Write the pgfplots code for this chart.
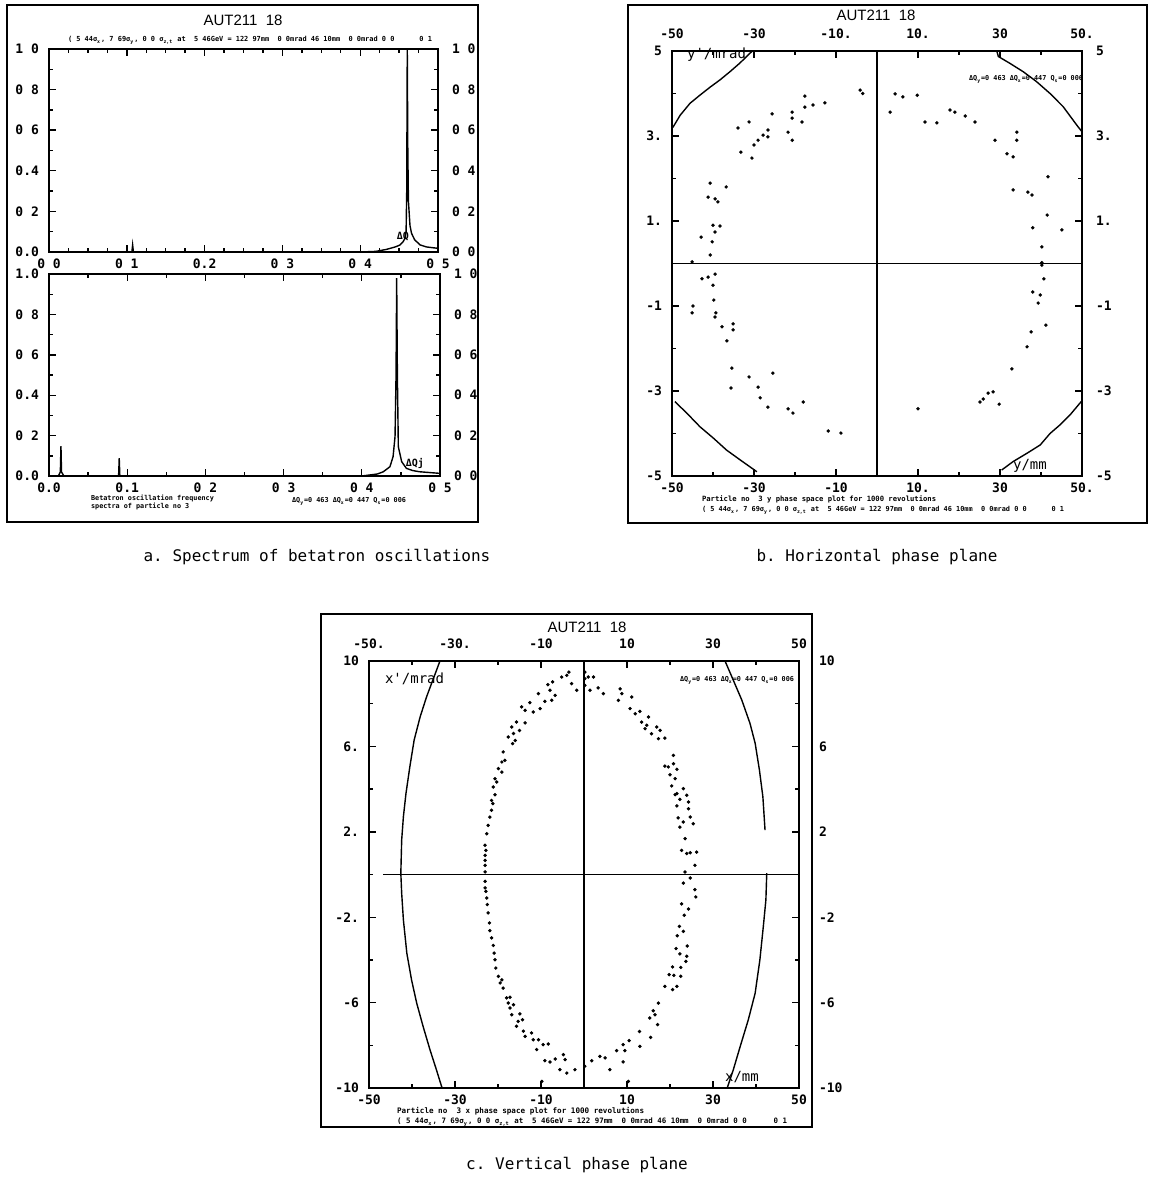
\documentclass[border=0pt]{standalone}
\usepackage{fontspec}
\setmainfont{DejaVu Sans Mono}
\setmonofont{DejaVu Sans Mono}
\setsansfont{Liberation Sans}
\usepackage{graphicx}
\usepackage{pgfplots}
\pgfplotsset{compat=1.18}

\newcommand{\tinyfont}{\fontsize{3.4}{4}\selectfont\ttfamily\bfseries}
\newcommand{\header}{( 5 44σ\textsubscript{x}, 7 69σ\textsubscript{y}, 0 0 σ\textsubscript{z,t} at \ 5 46GeV = 122 97mm \ 0 0mrad 46 10mm \ 0 0mrad 0 0 \ \ \ \ \ 0 1}
\newcommand{\dq}{ΔQ\textsubscript{y}=0 463 ΔQ\textsubscript{x}=0 447 Q\textsubscript{s}=0 006}
\newcommand{\tickfont}{\fontsize{6.5}{7}\selectfont\ttfamily\bfseries}

\pgfplotsset{
  panel/.style={scale only axis, anchor=north west,
    axis line style={line width=0.9pt},
    tick style={line width=0.7pt, black},
    major tick length=3.5pt, minor tick length=1.8pt,
    ticklabel style={font=\tickfont}, clip=true,
    yticklabel style={xshift=-1.5pt}},
  over/.style={panel, axis line style={draw=none},
    major tick length=0pt, minor tick length=0pt,
    xticklabel pos=right, yticklabel pos=right,
    yticklabel style={xshift=5pt}, xticklabel style={yshift=2.5pt}},
  dots/.style={only marks, mark=*, mark size=0.65pt, black},
  curve/.style={black, line width=0.7pt, no marks},
}

\begin{document}
\begin{tikzpicture}
\path[use as bounding box] (0,0) rectangle (575.5pt,-591pt);

% ---------- frames ----------
\draw[line width=0.9pt] (3.5pt,-2.5pt) rectangle (239pt,-261pt);
\draw[line width=0.9pt] (314pt,-2.5pt) rectangle (573.5pt,-261.5pt);
\draw[line width=0.9pt] (160.5pt,-307pt) rectangle (406pt,-563.5pt);

% ---------- panel a, top ----------
\begin{axis}[panel, at={(24.5pt,-24.5pt)}, width=194.5pt, height=101.5pt,
  xmin=0, xmax=0.5, ymin=0, ymax=1,
  xtick={0,0.1,0.2,0.3,0.4,0.5}, xticklabels={0 0,0 1,0.2,0 3,0 4,0 5},
  minor xtick={0.025,0.05,0.075,0.125,0.15,0.175,0.225,0.25,0.275,0.325,0.35,0.375,0.425,0.45,0.475},
  ytick={0,0.2,0.4,0.6,0.8,1}, yticklabels={0.0,0 2,0.4,0 6,0 8,1 0},
  minor ytick={0.1,0.3,0.5,0.7,0.9}]
\addplot[curve] coordinates {(0,0)(0.1065,0)(0.1075,0.035)(0.1085,0)(0.40,0)(0.42,0.003)(0.434,0.013)(0.445,0.025)(0.451,0.034)(0.455,0.05)(0.4576,0.067)(0.459,0.1)(0.4598,0.3)(0.4605,1.0)(0.4612,0.5)(0.462,0.25)(0.464,0.13)(0.466,0.092)(0.47,0.06)(0.477,0.035)(0.485,0.025)(0.5,0.018)};
\node[font=\fontsize{5}{5}\selectfont\ttfamily\bfseries] at (axis cs:0.455,0.075) {ΔQ};
\end{axis}
\begin{axis}[over, at={(24.5pt,-24.5pt)}, width=194.5pt, height=101.5pt,
  xmin=0, xmax=0.5, ymin=0, ymax=1, xtick=\empty,
  ytick={0,0.2,0.4,0.6,0.8,1}, yticklabels={0 0,0 2,0 4,0 6,0 8,1 0}]
\end{axis}

% ---------- panel a, bottom ----------
\begin{axis}[panel, at={(24.5pt,-137pt)}, width=195.5pt, height=101pt,
  xmin=0, xmax=0.5, ymin=0, ymax=1,
  xtick={0,0.1,0.2,0.3,0.4,0.5}, xticklabels={0.0,0.1,0 2,0 3,0 4,0 5},
  minor xtick={0.05,0.15,0.25,0.35,0.45},
  ytick={0,0.2,0.4,0.6,0.8,1}, yticklabels={0.0,0 2,0.4,0 6,0 8,1.0},
  minor ytick={0.1,0.3,0.5,0.7,0.9}]
\addplot[curve] coordinates {(0,0)(0.012,0)(0.0145,0.02)(0.0153,0.148)(0.016,0.02)(0.019,0)(0.089,0)(0.0898,0.088)(0.0906,0)(0.40,0)(0.42,0.01)(0.4275,0.021)(0.436,0.046)(0.440,0.096)(0.4425,0.195)(0.4438,0.5)(0.4446,0.98)(0.4455,0.5)(0.4467,0.145)(0.451,0.071)(0.457,0.038)(0.465,0.027)(0.474,0.021)(0.5,0.013)};
\node[font=\fontsize{5}{5}\selectfont\ttfamily\bfseries] at (axis cs:0.468,0.06) {ΔQj};
\end{axis}
\begin{axis}[over, at={(24.5pt,-137pt)}, width=195.5pt, height=101pt,
  xmin=0, xmax=0.5, ymin=0, ymax=1, xtick=\empty,
  ytick={0,0.2,0.4,0.6,0.8,1}, yticklabels={0 0,0 2,0 4,0 6,0 8,1 0}]
\end{axis}

\node[font=\sffamily\fontsize{7.5}{8}\selectfont] at (121.5pt,-10pt) {AUT211 \ 18};
\node[font=\tinyfont] at (125pt,-20pt) {\resizebox{182pt}{!}{\header}};
\node[font=\tinyfont, anchor=west, align=left] at (42pt,-251pt) {Betatron oscillation frequency\\spectra of particle no 3};
\node[font=\tinyfont, anchor=west] at (142.5pt,-250.5pt) {\dq};

% ---------- panel b ----------
\begin{axis}[panel, at={(336pt,-25.5pt)}, width=205pt, height=212.5pt,
  xmin=-50, xmax=50, ymin=-5, ymax=5,
  xtick={-50,-30,-10,10,30,50}, xticklabels={-50,-30,-10,10.,30,50.},
  minor xtick={-40,-20,0,20,40},
  ytick={-5,-3,-1,1,3,5}, yticklabels={-5,-3,-1,1.,3.,5},
  minor ytick={-4,-2,0,2,4}]
\addplot[curve] coordinates {(0,-5)(0,5)};
\addplot[curve] coordinates {(-50,0)(50,0)};
\addplot[curve] coordinates {(-49.8,3.2)(-48,3.49)(-45.6,3.77)(-43.2,3.96)(-40.7,4.15)(-38.3,4.32)(-35.9,4.51)(-33.4,4.72)(-31.4,4.91)(-30.4,5.0)};
\addplot[curve] coordinates {(29.2,5.0)(29.6,4.87)(32.4,4.71)(35.7,4.51)(38.9,4.28)(42.2,4.0)(45.4,3.69)(49,3.22)(50,3.1)};
\addplot[curve] coordinates {(-49.3,-3.25)(-46.4,-3.52)(-43.2,-3.84)(-39.9,-4.11)(-36.7,-4.39)(-33.4,-4.62)(-29.3,-4.9)};
\addplot[curve] coordinates {(49.8,-3.25)(47.1,-3.56)(44.6,-3.8)(42.2,-4.0)(39.8,-4.27)(36.5,-4.47)(33.2,-4.66)(30.4,-4.86)};
\addplot[dots] coordinates {
(-4.1,4.08)(-3.5,4.0)(-17.6,3.94)(-17.6,3.68)(-15.6,3.73)(-12.7,3.78)(-18.3,3.33)(-20.7,3.56)(-20.7,3.42)(-21.7,3.09)(-20.7,2.9)(-25.6,3.52)(-26.6,3.14)(-26.6,2.98)(-27.8,3.02)(-29,2.9)(-30,2.79)(-31.2,3.33)(-33.9,3.19)(-33.2,2.62)(-30.5,2.48)(-40.7,1.89)(-36.8,1.8)(-41.2,1.56)(-39.5,1.52)(-38.8,1.45)(-40,0.9)(-38.3,0.88)(-39.5,0.74)(-42.9,0.62)(-40.2,0.51)(-40.7,0.2)(-45.1,0.04)
(3.2,3.56)(4.4,3.99)(6.3,3.92)(9.8,3.96)(11.7,3.33)(14.6,3.31)(17.8,3.61)(19,3.56)(21.5,3.47)(23.9,3.33)(28.8,2.9)(34.1,3.09)(34.1,2.9)(31.7,2.58)(33.2,2.51)(41.7,2.04)(33.2,1.73)(36.8,1.68)(37.8,1.61)(41.5,1.14)(38,0.84)(45.1,0.79)(40.2,0.39)(40.2,0.02)
(-42.7,-0.36)(-41.2,-0.32)(-39.5,-0.25)(-40,-0.51)(-39.8,-0.86)(-44.9,-1.0)(-45.1,-1.16)(-39.3,-1.16)(-39.5,-1.26)(-37.8,-1.49)(-35.1,-1.42)(-35.1,-1.56)(-36.6,-1.82)(-35.4,-2.46)(-35.6,-2.93)(-31.2,-2.67)(-29,-2.91)(-28.5,-3.16)(-25.4,-2.58)(-26.6,-3.38)(-21.7,-3.42)(-20.5,-3.52)(-18,-3.26)(-11.9,-3.94)(-8.8,-3.99)
(10,-3.42)(25.1,-3.26)(25.9,-3.19)(27.1,-3.05)(28.3,-3.02)(29.8,-3.31)(32.9,-2.48)(36.6,-1.96)(37.6,-1.61)(41.2,-1.45)(38,-0.67)(39.8,-0.74)(39.3,-0.93)(40.7,-0.36)(40.2,-0.04)};
\end{axis}
\begin{axis}[over, at={(336pt,-25.5pt)}, width=205pt, height=212.5pt,
  xmin=-50, xmax=50, ymin=-5, ymax=5,
  xtick={-50,-30,-10,10,30,50}, xticklabels={-50,-30,-10.,10.,30,50.},
  ytick={-5,-3,-1,1,3,5}, yticklabels={-5,-3,-1,1.,3.,5}]
\end{axis}
\node[font=\sffamily\fontsize{7.5}{8}\selectfont] at (438pt,-7.5pt) {AUT211 \ 18};
\node[font=\fontsize{7}{7}\selectfont\ttfamily, anchor=west] at (340pt,-27.5pt) {y'/mrad};
\node[font=\tinyfont, anchor=west] at (481pt,-39.5pt) {\dq};
\node[font=\fontsize{7}{7}\selectfont\ttfamily, anchor=west] at (503pt,-233pt) {y/mm};
\node[font=\fontsize{3.6}{4}\selectfont\ttfamily\bfseries, anchor=west] at (347.5pt,-249.5pt) {Particle no \ 3 y phase space plot for 1000 revolutions};
\node[font=\tinyfont, anchor=west] at (347.5pt,-255pt) {\resizebox{181pt}{!}{\header}};

% ---------- panel c ----------
\begin{axis}[panel, at={(184.5pt,-330.5pt)}, width=215pt, height=213.5pt,
  xmin=-50, xmax=50, ymin=-10, ymax=10,
  xtick={-50,-30,-10,10,30,50}, xticklabels={-50,-30,-10,10,30,50},
  minor xtick={-40,-20,0,20,40},
  ytick={-10,-6,-2,2,6,10}, yticklabels={-10,-6,-2.,2.,6.,10},
  minor ytick={-8,-4,0,4,8}]
\addplot[curve] coordinates {(0,-10)(0,10)};
\addplot[curve] coordinates {(-46.7,0)(50,0)};
\addplot[curve] coordinates {(-33.5,10)(-35,9.19)(-36.6,8.33)(-38.1,7.39)(-39.5,6.3)(-40.5,5.05)(-41.4,3.8)(-42,2.71)(-42.4,1.62)(-42.6,0.06)(-42.4,-0.88)(-42,-2.13)(-41.2,-3.69)(-40.1,-4.94)(-38.9,-6.03)(-37.4,-7.13)(-35.8,-8.22)(-34.3,-9.16)(-33.1,-9.94)(-33,-10)};
\addplot[curve] coordinates {(32.8,10)(34.7,9.11)(36.7,8.17)(38.6,7.08)(39.8,6.15)(40.8,4.89)(41.6,3.64)(42.1,2.08)};
\addplot[curve] coordinates {(42.5,0.06)(42.3,-1.19)(41.7,-2.44)(40.9,-4.0)(39.8,-5.56)(38.2,-6.81)(36.3,-8.07)(34.7,-9.16)(33.3,-10)};
\addplot[dots] coordinates {
(-3.5,9.48)(-4.0,9.33)(-5.2,9.25)(-7.3,9.02)(-8.4,8.89)(-10.6,8.47)(-7.9,8.63)(-6.7,8.39)(-7.5,8.16)(-9.1,8.11)(-10.2,7.77)(-12.6,8.05)(-13.7,7.69)(-11.8,7.61)(-14.5,7.85)(-15.7,7.14)(-13.7,7.1)(-16.8,6.91)(-15,6.75)(-16.4,6.6)(-17.6,6.44)(-16,6.28)(-16.6,6.13)(-18.8,5.74)(-19.1,5.27)(-18.4,5.35)(-19.9,4.96)(-19.1,4.8)(-20.7,4.49)(-20.3,4.33)(-21.1,4.1)(-20.7,3.74)(-21.5,3.47)(-21.2,3.32)(-21.5,3.01)(-21.9,2.69)(-22.3,2.3)(-22.6,1.91)(-23,1.37)(-22.8,1.13)(-23,0.9)(-23,0.66)(-23,0.43)(-23,0.12)(-2.9,8.94)(-1.7,8.63)(0.2,9.48)(1,9.25)(0.2,8.86)(1.4,8.63)
(0.2,9.17)(2.2,9.25)(3.3,8.74)(4.5,8.47)(8.4,8.7)(8.8,8.47)(8,8.16)(11.1,8.31)(10.7,7.77)(11.9,7.53)(13,7.64)(15,7.38)(13.4,7.14)(14.6,6.99)(14.2,6.83)(15.7,6.59)(16.9,6.91)(17.7,6.75)(17.3,6.36)(18.8,6.39)(20.8,5.58)(20.8,5.19)(18.8,5.08)(19.6,5.04)(21.6,4.93)(20,4.67)(21.2,4.49)(20.4,4.15)(21.6,3.79)(21.2,3.74)(22.3,3.52)(21.6,3.21)(23.9,3.71)(23.1,4.02)(24.3,3.4)(24.3,3.08)(21.9,2.65)(24.7,2.69)(25.4,2.38)(23.1,2.46)(22.3,2.22)(23.5,1.68)(22.7,1.13)(23.9,0.98)(24.7,1.02)(26.2,1.05)(25.8,0.43)(23.5,0.12)
(-23,-0.32)(-23,-0.63)(-22.8,-0.79)(-22.6,-1.1)(-22.5,-1.41)(-22.3,-1.8)(-22,-2.27)(-21.9,-2.63)(-21.5,-2.97)(-21.1,-3.32)(-20.9,-3.68)(-20.7,-3.99)(-20.5,-4.38)(-19.9,-4.77)(-19.1,-4.93)(-19.5,-5.08)(-18.8,-5.32)(-18,-5.78)(-17.2,-5.75)(-17.6,-6.02)(-16.4,-6.1)(-17.2,-6.25)(-16.8,-6.57)(-14.9,-6.53)(-15.3,-6.88)(-14.3,-6.8)(-15.7,-7.11)(-14.1,-7.34)(-13.7,-7.58)(-12.2,-7.42)(-11.8,-7.74)(-10.6,-7.74)(-11,-8.2)(-9.5,-7.97)(-8.3,-7.94)(-9.1,-8.72)(-7.9,-8.78)(-6.7,-8.64)(-4.8,-8.44)(-4.4,-8.67)(-5.6,-9.14)(-4,-9.3)(-2.1,-9.14)(-9.8,-9.69)(0.2,-8.98)
(1.8,-8.72)(3.7,-8.52)(4.9,-8.59)(6,-9.14)(10.3,-9.69)(7.6,-8.25)(9.1,-7.97)(9.5,-8.25)(10.5,-7.78)(9.1,-8.78)(12.9,-7.35)(13,-8.05)(15.5,-7.63)(15.3,-6.72)(16.5,-6.57)(16.1,-6.38)(17.1,-7.03)(17.3,-6.02)(18.8,-5.24)(20.6,-5.39)(21.6,-5.24)(19.8,-4.69)(20.9,-4.72)(22.5,-4.77)(20.6,-4.33)(22.5,-4.35)(21.4,-3.47)(22.3,-3.72)(23.9,-3.83)(23.7,-4.07)(24,-3.35)(21.7,-2.87)(22.2,-2.43)(23.1,-2.66)(22.7,-1.38)(23.3,-1.91)(24.3,-1.62)(23.1,-0.4)(24.7,-0.16)(25.8,-0.71)(26,-1.05)};
\end{axis}
\begin{axis}[over, at={(184.5pt,-330.5pt)}, width=215pt, height=213.5pt,
  xmin=-50, xmax=50, ymin=-10, ymax=10,
  xtick={-50,-30,-10,10,30,50}, xticklabels={-50.,-30.,-10,10,30,50},
  ytick={-10,-6,-2,2,6,10}, yticklabels={-10,-6,-2,2,6,10},
  yticklabel style={xshift=3pt}]
\end{axis}
\node[font=\sffamily\fontsize{7.5}{8}\selectfont] at (293.5pt,-313.5pt) {AUT211 \ 18};
\node[font=\fontsize{7}{7}\selectfont\ttfamily, anchor=west] at (189pt,-339.5pt) {x'/mrad};
\node[font=\tinyfont, anchor=west] at (336.5pt,-340pt) {\dq};
\node[font=\fontsize{7}{7}\selectfont\ttfamily, anchor=west] at (359pt,-538.5pt) {x/mm};
\node[font=\fontsize{3.8}{4}\selectfont\ttfamily\bfseries, anchor=west] at (195pt,-555.5pt) {Particle no \ 3 x phase space plot for 1000 revolutions};
\node[font=\tinyfont, anchor=west] at (195pt,-561pt) {\resizebox{195pt}{!}{\header}};

% ---------- captions ----------
\node[font=\fontsize{8}{9}\selectfont\ttfamily] at (158.5pt,-278.5pt) {a. Spectrum of betatron oscillations};
\node[font=\fontsize{8}{9}\selectfont\ttfamily] at (438.5pt,-278.5pt) {b. Horizontal phase plane};
\node[font=\fontsize{8}{9}\selectfont\ttfamily] at (288.5pt,-582.5pt) {c. Vertical phase plane};
\end{tikzpicture}
\end{document}
